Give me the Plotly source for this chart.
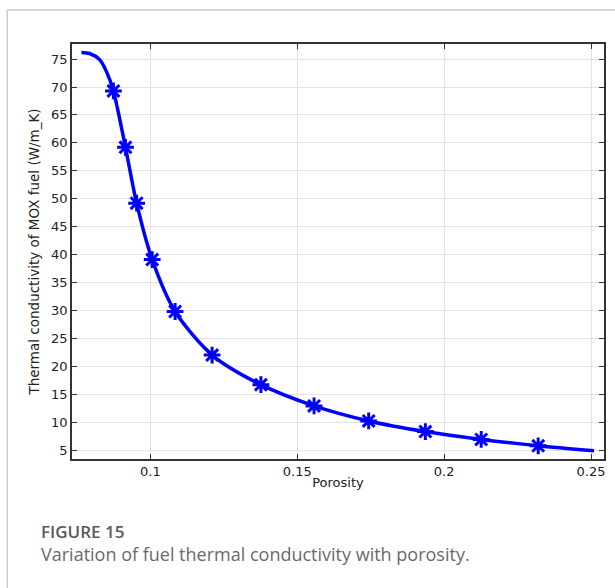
import plotly.graph_objects as go

# Marker points (porosity, conductivity)
marker_porosity = [0.0874, 0.0915, 0.0953, 0.1006, 0.1084, 0.1210, 0.1376, 0.1557, 0.1743, 0.1936, 0.2126, 0.2320]
marker_conductivity = [69.3, 59.2, 49.2, 39.1, 29.8, 22.0, 16.7, 12.9, 10.2, 8.3, 6.9, 5.75]

# Curve points
curve_porosity = [0.0765, 0.0793, 0.0827, 0.0850, 0.0874, 0.0915, 0.0953, 0.1006, 0.1084, 0.1210,
                  0.1376, 0.1557, 0.1743, 0.1936, 0.2126, 0.2320, 0.2510]
curve_conductivity = [76.2, 76.0, 74.9, 72.8, 69.3, 59.2, 49.2, 39.1, 29.8, 22.0,
                      16.7, 12.9, 10.2, 8.3, 6.9, 5.75, 4.85]

x_ticks = [0.1, 0.15, 0.2, 0.25]
x_tick_labels = ["0.1", "0.15", "0.2", "0.25"]
y_ticks = [5, 10, 15, 20, 25, 30, 35, 40, 45, 50, 55, 60, 65, 70, 75]

BLUE = "#0000ff"

fig = go.Figure()
fig.add_trace(go.Scatter(
    x=curve_porosity, y=curve_conductivity, mode="lines",
    line=dict(color=BLUE, width=3.5, shape="spline", smoothing=0.8),
    hoverinfo="skip", showlegend=False))
fig.add_trace(go.Scatter(
    x=marker_porosity, y=marker_conductivity, mode="markers",
    marker=dict(symbol="asterisk-open", size=14, color=BLUE, line=dict(color=BLUE, width=3)),
    showlegend=False))

axis_common = dict(
    showline=True, linecolor="#333333", linewidth=1.5, mirror="allticks",
    ticks="inside", ticklen=5, tickcolor="#333333", tickwidth=1.2,
    showgrid=True, gridcolor="#e3e3e3", gridwidth=1, zeroline=False,
    tickfont=dict(family="DejaVu Sans", size=13, color="#222222"),
)

fig.update_layout(
    width=615, height=588,
    margin=dict(l=72, r=9, t=44, b=129),
    paper_bgcolor="white", plot_bgcolor="white",
    xaxis=dict(range=[0.0733, 0.2544], tickvals=x_ticks, ticktext=x_tick_labels,
               title=dict(text="Porosity", standoff=0,
                          font=dict(family="DejaVu Sans", size=13, color="#222222")),
               **axis_common),
    yaxis=dict(range=[3.39, 77.7], tickvals=y_ticks,
               title=dict(text="Thermal conductivity of MOX fuel (W/m_K)", standoff=8,
                          font=dict(family="DejaVu Sans", size=13.5, color="#222222")),
               **axis_common),
)

# Card border (top and left edges)
def px_x(p):
    return (p - 72) / 534.0

def px_y(p):
    return (459 - p) / 415.0

fig.add_shape(type="line", xref="paper", yref="paper",
              x0=px_x(7), x1=px_x(640), y0=px_y(10), y1=px_y(10),
              line=dict(color="#cccccc", width=1.5))
fig.add_shape(type="line", xref="paper", yref="paper",
              x0=px_x(7), x1=px_x(7), y0=px_y(10), y1=px_y(620),
              line=dict(color="#cccccc", width=1.5))

fig.add_annotation(text="FIGURE 15", xref="paper", yref="paper",
                   x=px_x(39), y=px_y(531), xanchor="left", yanchor="middle",
                   showarrow=False,
                   font=dict(family="Open Sans", size=17, color="#5a5a5a", weight=600))
fig.add_annotation(text="Variation of fuel thermal conductivity with porosity.",
                   xref="paper", yref="paper",
                   x=px_x(39), y=px_y(554), xanchor="left", yanchor="middle",
                   showarrow=False,
                   font=dict(family="Open Sans", size=18, color="#6a6a6a"))

fig.write_html("out.html")
